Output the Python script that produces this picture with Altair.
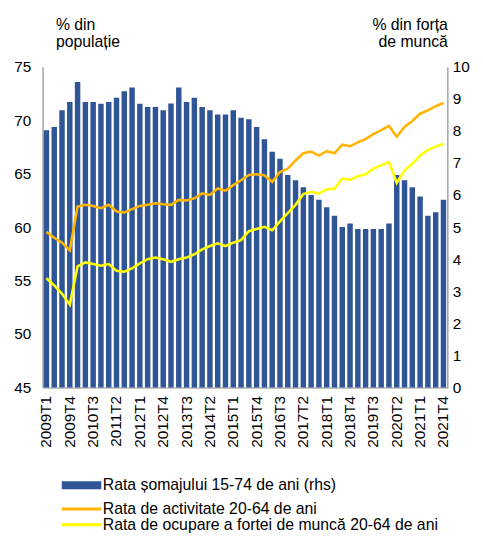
import altair as alt
import pandas as pd

quarters = [f"{y}T{q}" for y in range(2009, 2022) for q in range(1, 5)]
label_quarters = quarters[::3]

unemployment = [8.02, 8.12, 8.64, 8.90, 9.52, 8.90, 8.90, 8.84, 8.90, 9.03,
                9.23, 9.35, 8.84, 8.74, 8.74, 8.64, 8.85, 9.35, 8.90, 9.03,
                8.74, 8.64, 8.51, 8.51, 8.64, 8.41, 8.36, 8.12, 7.74, 7.35,
                7.13, 6.62, 6.46, 6.24, 6.00, 5.85, 5.62, 5.35, 5.00, 5.11,
                4.94, 4.94, 4.94, 4.94, 5.11, 6.62, 6.46, 6.24, 5.95, 5.35,
                5.46, 5.85]
activity = [59.55, 59.0, 58.54, 57.83, 61.92, 62.08, 61.98, 61.77, 62.08, 61.46,
            61.37, 61.68, 61.98, 62.08, 62.23, 62.14, 62.08, 62.54, 62.48, 62.69,
            63.15, 63.0, 63.61, 63.4, 63.92, 64.38, 64.88, 64.94, 64.85, 64.23,
            65.15, 65.46, 66.23, 66.9, 67.06, 66.69, 67.09, 66.9, 67.7, 67.56,
            67.92, 68.23, 68.69, 69.06, 69.46, 68.45, 69.37, 69.92, 70.6, 70.91,
            71.3, 71.6]
employment = [55.22, 54.54, 53.77, 52.75, 56.33, 56.7, 56.54, 56.38, 56.54, 55.92,
              55.83, 56.14, 56.6, 57.0, 57.15, 57.0, 56.75, 57.0, 57.15, 57.46,
              57.92, 58.23, 58.48, 58.23, 58.54, 58.78, 59.62, 59.83, 60.02, 59.7,
              60.54, 61.3, 62.08, 63.09, 63.3, 63.15, 63.52, 63.61, 64.54, 64.42,
              64.75, 64.94, 65.46, 65.77, 66.08, 64.14, 65.31, 65.92, 66.69, 67.22,
              67.52, 67.77]

series_names = ["Rata șomajului 15-74 de ani (rhs)",
                "Rata de activitate 20-64 de ani",
                "Rata de ocupare a fortei de muncă 20-64 de ani"]
colors = ["#2F5597", "#FFB400", "#FFFF00"]

bar_df = pd.DataFrame({"quarter": quarters, "value": unemployment, "series": series_names[0]})
line_df = pd.concat([
    pd.DataFrame({"quarter": quarters, "value": activity, "series": series_names[1]}),
    pd.DataFrame({"quarter": quarters, "value": employment, "series": series_names[2]}),
])

FONT = "Liberation Sans"

x_enc = alt.X("quarter:N", sort=quarters,
              scale=alt.Scale(paddingInner=0.3, paddingOuter=0.15),
              axis=alt.Axis(values=label_quarters, labelAngle=-90, title=None,
                            labelFontSize=15.5, labelPadding=8))

color_enc = alt.Color("series:N",
                      scale=alt.Scale(domain=series_names, range=colors),
                      legend=alt.Legend(
                          title=None, orient="none", legendX=14, legendY=416,
                          direction="vertical",
                          symbolType="M-1,0H15", symbolSize=25,
                          symbolStrokeWidth=alt.ExprRef(expr="datum.index === 0 ? 8 : 3"),
                          symbolStrokeColor=alt.ExprRef(expr="scale('color', datum.value)"),
                          symbolFillColor="transparent",
                          symbolOpacity=1,
                          labelOffset=31,
                          labelFontSize=16, labelFont=FONT, labelColor="#000",
                          rowPadding=0, labelLimit=420))

bars = alt.Chart(bar_df).mark_bar(color=colors[0]).encode(
    x=x_enc,
    y=alt.Y("value:Q", scale=alt.Scale(domain=[0, 10]),
            axis=alt.Axis(orient="right", values=list(range(0, 11)),
                          title=["% din forța", "de muncă"], titleAngle=0,
                          titleAlign="right", titleBaseline="top",
                          titleX=0, titleY=-51, labelPadding=5)),
    color=color_enc,
)

lines = alt.Chart(line_df).mark_line(strokeWidth=2.6).encode(
    x=x_enc,
    y=alt.Y("value:Q", scale=alt.Scale(domain=[45, 75]),
            axis=alt.Axis(orient="left", values=list(range(45, 80, 5)),
                          title=["% din", "populație"], titleAngle=0,
                          titleAlign="left", titleBaseline="top",
                          titleX=13, titleY=-51, labelPadding=12)),
    color=color_enc,
)

chart = alt.layer(bars, lines).resolve_scale(y="independent").properties(
    width=410, height=325,
    padding={"left": 5, "top": 5, "right": 5, "bottom": 0},
).configure_view(stroke=None).configure_axis(
    domainColor="#8C8C8C", domainWidth=1.2, ticks=False, grid=False,
    labelFont=FONT, labelFontSize=15.5, labelColor="#000",
    titleFont=FONT, titleFontSize=16, titleFontWeight="normal", titleColor="#000",
    titleLineHeight=18,
)

chart.save("out.html", embed_options={"renderer": "svg", "actions": False})
